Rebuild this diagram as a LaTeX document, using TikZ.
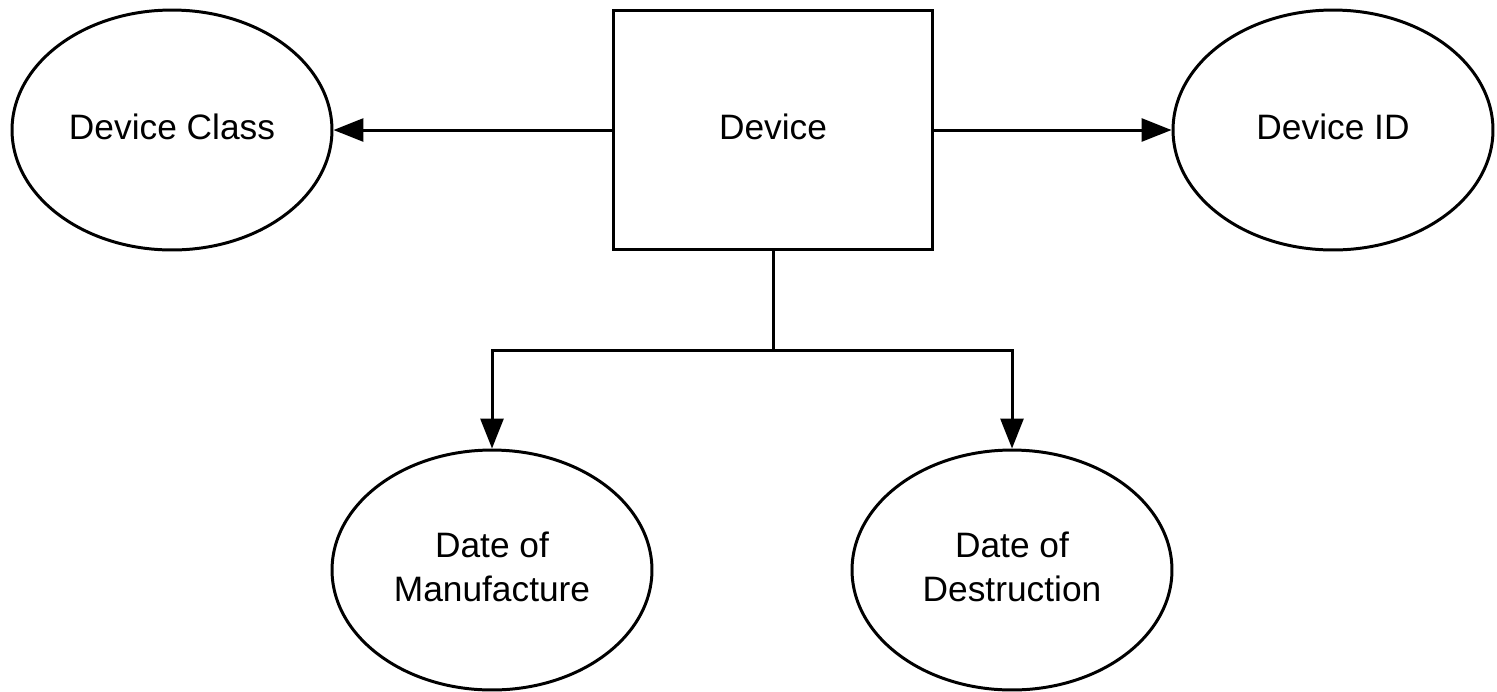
\documentclass[tikz,border=0pt]{standalone}
\usepackage{fontspec}
\setmainfont{Liberation Sans}
\usetikzlibrary{shapes.geometric,arrows.meta}
\begin{document}
\begin{tikzpicture}[x=0.02cm,y=-0.02cm,
  every node/.style={font=\fontsize{20.1}{25}\selectfont, text depth=0.42em, align=center, inner sep=0pt},
  attr/.style={draw, line width=1.7pt, ellipse, minimum width=6.4cm, minimum height=4.8cm},
  entity/.style={draw, line width=1.7pt, rectangle, minimum width=6.4cm, minimum height=4.8cm},
  conn/.style={line width=1.7pt, -{Triangle[length=17pt,width=13pt]}}
]
\useasboundingbox (0,0) rectangle (1497,691);
\node[entity] (dev) at (773,130) {Device};
\node[attr] (cls) at (172,130) {Device Class};
\node[attr] (id) at (1333,130) {Device ID};
\node[attr] (man) at (492,570) {Date of\\Manufacture};
\node[attr] (des) at (1012,570) {Date of\\Destruction};
\coordinate (j) at (773,350);
\draw[conn] (dev.west) -- (cls.east);
\draw[conn] (dev.east) -- (id.west);
\draw[line width=1.7pt] (dev.south) -- (j);
\draw[conn] (j) -| (man.north);
\draw[conn] (j) -| (des.north);
\end{tikzpicture}
\end{document}
